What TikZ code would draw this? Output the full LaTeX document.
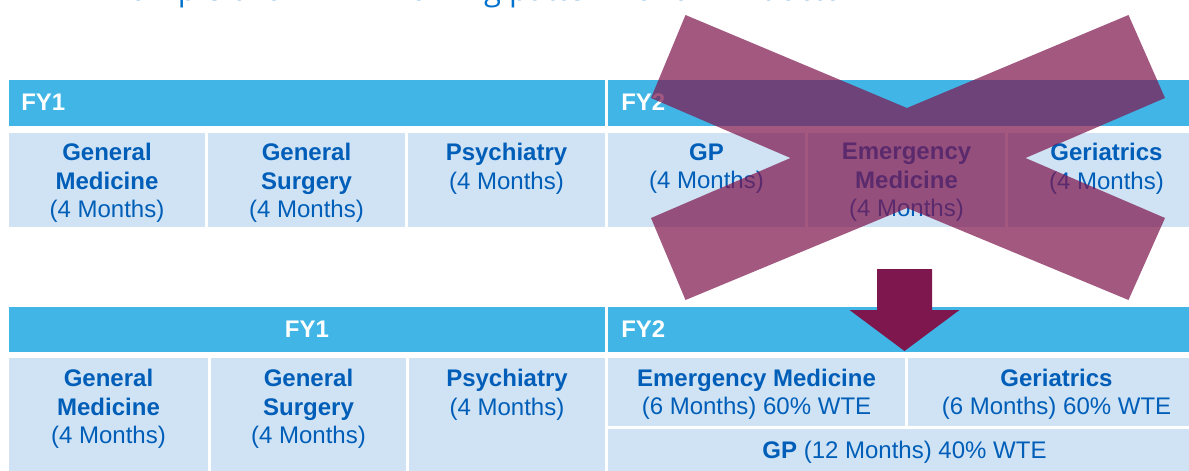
\documentclass[tikz,border=0pt]{standalone}
\usepackage{fontspec}
\setmainfont{Liberation Sans}
\newfontfamily\titlefont{Open Sans}
\usepackage{tikz}

\definecolor{hdrblue}{RGB}{65,182,230}
\definecolor{cellblue}{RGB}{207,227,244}
\definecolor{txtblue}{RGB}{0,94,184}
\definecolor{ttlblue}{RGB}{0,114,206}
\definecolor{plum}{RGB}{127,23,79}

\begin{document}
\begin{tikzpicture}[x=0.75pt,y=0.75pt,yscale=-1,xscale=1,
	hdr/.style={fill=hdrblue},
	cell/.style={fill=cellblue},
	hdrlbl/.style={text=white,inner sep=0pt,font=\fontsize{18}{21.4}\selectfont\bfseries},
	celllbl/.style={text=txtblue,inner sep=0pt,align=center,font=\fontsize{18}{21.4}\selectfont}]
	%set diagram size to the slide crop
	\path[use as bounding box,clip] (0,0) rectangle (1189,471);
	
	% Text Node (title, cut by the top edge)
	\draw (98,0) node (ttl) [anchor=base west][inner sep=0pt,text=ttlblue,font=\fontsize{23.25}{28}\titlefont] {Example of an LTFT working pattern for an FY doctor};
	
	%Shape: Rectangle -- first rotation, headers
	\fill[hdr] (9,80) rectangle (605,126);
	\fill[hdr] (608,80) rectangle (1205,126);
	%Shape: Rectangle -- first rotation, posts
	\fill[cell] (9,133) rectangle (205,227);
	\fill[cell] (208,133) rectangle (405,227);
	\fill[cell] (408,133) rectangle (605,227);
	\fill[cell] (608,133) rectangle (805,227);
	\fill[cell] (808,133) rectangle (1005,227);
	\fill[cell] (1008,133) rectangle (1205,227);
	
	% Text Node
	\draw (21,110) node (fyA) [hdrlbl,anchor=base west] {FY1};
	% Text Node
	\draw (621,110) node (fyB) [hdrlbl,anchor=base west] {FY2};
	% Text Node
	\draw (107,143) node (gmA) [celllbl,anchor=north] {\textbf{General}\\\textbf{Medicine}\\(4 Months)};
	% Text Node
	\draw (306.5,143) node (gsA) [celllbl,anchor=north] {\textbf{General}\\\textbf{Surgery}\\(4 Months)};
	% Text Node
	\draw (506.5,143) node (psA) [celllbl,anchor=north] {\textbf{Psychiatry}\\(4 Months)};
	% Text Node
	\draw (706.5,143) node (gpA) [celllbl,anchor=north] {\textbf{GP}\\(4 Months)};
	% Text Node
	\draw (906.5,143) node (emA) [celllbl,anchor=north] {\textbf{Emergency}\\\textbf{Medicine}\\(4 Months)};
	% Text Node
	\draw (1106.5,143) node (geA) [celllbl,anchor=north] {\textbf{Geriatrics}\\(4 Months)};
	
	%Shape: Rectangle -- second rotation, headers
	\fill[hdr] (9,307) rectangle (605,352);
	\fill[hdr] (608,307) rectangle (1205,352);
	%Shape: Rectangle -- second rotation, posts
	\fill[cell] (9,358) rectangle (208,475);
	\fill[cell] (211,358) rectangle (406,475);
	\fill[cell] (409,358) rectangle (605,475);
	\fill[cell] (608,358) rectangle (905,426);
	\fill[cell] (908,358) rectangle (1205,426);
	\fill[cell] (608,429) rectangle (1205,475);
	
	% Text Node
	\draw (307,337) node (fyC) [hdrlbl,anchor=base] {FY1};
	% Text Node
	\draw (621,337) node (fyD) [hdrlbl,anchor=base west] {FY2};
	% Text Node
	\draw (108.5,369) node (gmB) [celllbl,anchor=north] {\textbf{General}\\\textbf{Medicine}\\(4 Months)};
	% Text Node
	\draw (308.5,369) node (gsB) [celllbl,anchor=north] {\textbf{General}\\\textbf{Surgery}\\(4 Months)};
	% Text Node
	\draw (507,369) node (psB) [celllbl,anchor=north] {\textbf{Psychiatry}\\(4 Months)};
	% Text Node
	\draw (756.5,368.5) node (emB) [celllbl,anchor=north] {\textbf{Emergency Medicine}\\(6 Months) 60\% WTE};
	% Text Node
	\draw (1056.5,368.5) node (geB) [celllbl,anchor=north] {\textbf{Geriatrics}\\(6 Months) 60\% WTE};
	% Text Node
	\draw (904.5,458.5) node (gpB) [celllbl,anchor=base] {\textbf{GP} (12 Months) 40\% WTE};
	
	%Shape: Cross over the first FY2
	\fill[plum,fill opacity=0.72] (685.5,15) -- (907,108) -- (1128.5,15) -- (1165,98) -- (1025.5,158) -- (1165,218) -- (1128.5,300) -- (907,208) -- (685.5,300) -- (651,218) -- (790.5,158) -- (651,98) -- cycle;
	
	%Shape: Down Arrow
	\fill[plum] (877,269) -- (932,269) -- (932,310) -- (959.5,310) -- (904.5,351) -- (849.5,310) -- (877,310) -- cycle;
\end{tikzpicture}
\end{document}
